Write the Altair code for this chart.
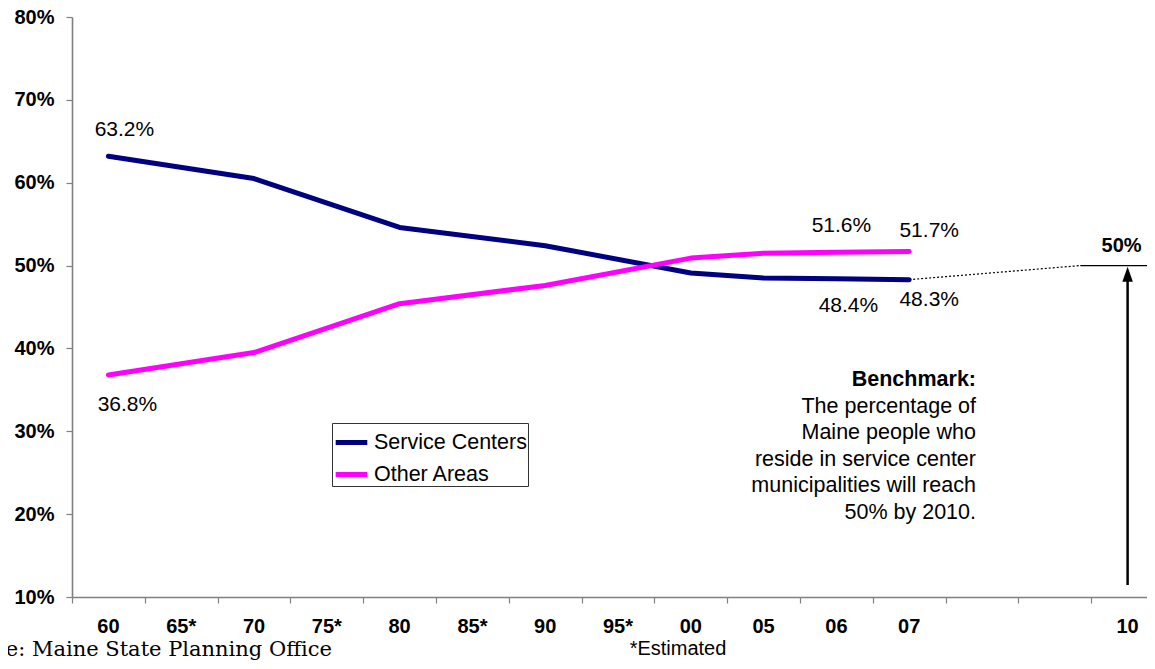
import altair as alt
import pandas as pd

# ---- data ----
categories = ["60", "65*", "70", "75*", "80", "85*", "90", "95*", "00", "05", "06", "07", "", "", "10"]
data_years = ["60", "70", "80", "90", "00", "05", "06", "07"]
service_centers = [63.2, 60.5, 54.6, 52.4, 49.1, 48.5, 48.4, 48.3]
other_areas = [36.8, 39.5, 45.4, 47.6, 50.9, 51.5, 51.6, 51.7]
series_names = ["Service Centers", "Other Areas"]
series_colors = ["#000080", "#FF00FF"]
benchmark_year = "10"
benchmark_value = 50.0
arrow_bottom_value = 11.45

# labelled points: (series, year)
labelled = [("Service Centers", "60"), ("Other Areas", "60"),
            ("Other Areas", "06"), ("Other Areas", "07"),
            ("Service Centers", "06"), ("Service Centers", "07")]
label_offsets = [(16, -26), (19, 30), (5, -26), (20, -20), (12, 27), (20, 20)]

benchmark_lines = ["The percentage of", "Maine people who", "reside in service center",
                   "municipalities will reach", "50% by 2010."]

# ---- layout ----
BAND_PX = 72.8
PLOT_W = 1075
PLOT_H = 580
XMAX = PLOT_W / BAND_PX
FONT = "Liberation Sans"
AXIS_GREY = "#808080"


def slot(year):
    return categories.index(year) + 0.5


rows = []
for name, vals in zip(series_names, [service_centers, other_areas]):
    for yr, v in zip(data_years, vals):
        rows.append({"slot": slot(yr), "value": v, "series": name, "year": yr})
df = pd.DataFrame(rows)

xscale = alt.Scale(domain=[0, XMAX], nice=False, zero=False)
yscale = alt.Scale(domain=[10, 80], nice=False, zero=False)

x_axis = alt.Axis(values=list(range(15)), labels=False, ticks=True, tickSize=6,
                  tickColor=AXIS_GREY, tickWidth=1.2, domainColor=AXIS_GREY, domainWidth=1.6,
                  grid=False, title=None)
y_axis = alt.Axis(values=[10, 20, 30, 40, 50, 60, 70, 80], labelExpr="datum.value + '%'",
                  labelFont=FONT, labelFontSize=20, labelFontWeight="bold", labelColor="#000",
                  labelPadding=12, tickSize=6, tickColor=AXIS_GREY, tickWidth=1.2,
                  domainColor=AXIS_GREY, domainWidth=1.6, grid=False, title=None)


def X(f="slot:Q"):
    return alt.X(f, scale=xscale, axis=x_axis)


def Y(f="value:Q"):
    return alt.Y(f, scale=yscale, axis=y_axis)


lines = alt.Chart(df).mark_line(strokeWidth=5, strokeCap="round", strokeJoin="round").encode(
    x=X(), y=Y(),
    color=alt.Color("series:N", scale=alt.Scale(domain=series_names, range=series_colors),
                    sort=series_names,
                    legend=alt.Legend(title=None, orient="none", legendX=260, legendY=406,
                                      direction="vertical", symbolType="stroke",
                                      symbolStrokeWidth=5, symbolSize=1000,
                                      labelFont=FONT, labelFontSize=21.5, labelColor="#000",
                                      labelOffset=4, strokeColor="#333", fillColor="white",
                                      padding=1, rowPadding=3, labelLimit=300)),
    detail="series:N",
)

layers = [lines]

# data labels
for (ser, yr), (dx, dy) in zip(labelled, label_offsets):
    vals = service_centers if ser == "Service Centers" else other_areas
    v = vals[data_years.index(yr)]
    ldf = pd.DataFrame([{"slot": slot(yr), "value": v, "text": f"{v:.1f}%"}])
    layers.append(alt.Chart(ldf).mark_text(font=FONT, fontSize=21, color="#000",
                                            dx=dx, dy=dy, baseline="middle").encode(
        x=X(), y=Y(), text="text:N"))

# x category labels
cdf = pd.DataFrame({"slot": [i + 0.5 for i in range(len(categories))], "text": categories})
layers.append(alt.Chart(cdf).mark_text(font=FONT, fontSize=20, fontWeight="bold", color="#000",
                                       baseline="middle").encode(
    x=X(), y=alt.value(PLOT_H + 30), text="text:N"))

# dotted projection from last Service Centers point to benchmark
last_year = data_years[-1]
proj = pd.DataFrame({"slot": [slot(last_year), 13.85],
                     "value": [service_centers[-1], benchmark_value]})
layers.append(alt.Chart(proj).mark_line(color="#000", strokeWidth=1.2, strokeDash=[2, 2]).encode(
    x=X(), y=Y()))

# solid benchmark line
bdf = pd.DataFrame({"slot": [13.85], "slot2": [XMAX], "value": [benchmark_value]})
layers.append(alt.Chart(bdf).mark_rule(color="#000", strokeWidth=1.2).encode(
    x=X(), x2="slot2:Q", y=Y()))

# arrow
adf = pd.DataFrame({"slot": [slot(benchmark_year)], "value": [arrow_bottom_value],
                    "value2": [benchmark_value - 1.2]})
layers.append(alt.Chart(adf).mark_rule(color="#000", strokeWidth=2.5).encode(
    x=X(), y=Y(), y2="value2:Q"))
hdf = pd.DataFrame({"slot": [slot(benchmark_year)], "value": [benchmark_value - 1.05]})
layers.append(alt.Chart(hdf).mark_point(shape="M0,-1L0.7,1L-0.7,1Z", filled=True, size=225,
                                        color="#000", opacity=1).encode(x=X(), y=Y()))

# 50% label
pdf = pd.DataFrame({"slot": [slot(benchmark_year)], "value": [benchmark_value],
                    "text": [f"{benchmark_value:.0f}%"]})
layers.append(alt.Chart(pdf).mark_text(font=FONT, fontSize=20, fontWeight="bold", color="#000",
                                       dx=-6, dy=-20, baseline="middle").encode(
    x=X(), y=Y(), text="text:N"))

# benchmark text
layers.append(alt.Chart(pd.DataFrame({"t": ["Benchmark:"]})).mark_text(
    font=FONT, fontSize=21.5, fontWeight="bold", color="#000", align="right", baseline="middle").encode(
    x=alt.value(904), y=alt.value(363), text="t:N"))
layers.append(alt.Chart(pd.DataFrame({"t": ["\n".join(benchmark_lines)]})).mark_text(
    font=FONT, fontSize=21.5, color="#000", align="right", baseline="middle", lineBreak="\n",
    lineHeight=26.4).encode(
    x=alt.value(904), y=alt.value(390), text="t:N"))

# footnotes
layers.append(alt.Chart(pd.DataFrame({"t": ["*Estimated"]})).mark_text(
    font=FONT, fontSize=20, color="#000", align="center", baseline="middle").encode(
    x=alt.value(606), y=alt.value(632), text="t:N"))
layers.append(alt.Chart(pd.DataFrame({"t": ["Source: Maine State Planning Office"]})).mark_text(
    font="DejaVu Serif", fontSize=21, color="#000", align="right", baseline="middle").encode(
    x=alt.value(260), y=alt.value(633), text="t:N"))

chart = alt.layer(*layers).properties(
    width=PLOT_W, height=PLOT_H,
    autosize=alt.AutoSizeParams(type="none"),
    padding={"left": 64, "top": 9, "right": 0, "bottom": 63},
    background="white",
).configure_view(stroke=None)

chart.save("out.html", embed_options={"renderer": "svg", "actions": False})
